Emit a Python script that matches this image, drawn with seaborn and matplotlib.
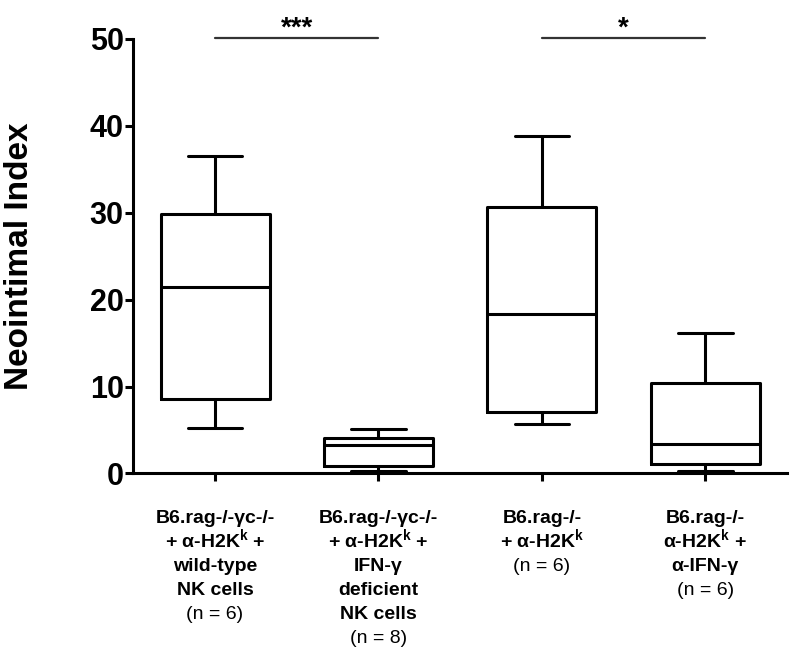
import numpy as np
import pandas as pd
import seaborn as sns
import matplotlib.pyplot as plt

# ---- data ----
groups = ["wt_nk", "ifng_def_nk", "rag", "rag_anti_ifng"]
label_lines = [
    ["B6.rag-/-γc-/-", "+ α-H2K$^{\\mathbf{k}}$ +", "wild-type", "NK cells"],
    ["B6.rag-/-γc-/-", "+ α-H2K$^{\\mathbf{k}}$ +", "IFN-γ", "deficient", "NK cells"],
    ["B6.rag-/-", "+ α-H2K$^{\\mathbf{k}}$"],
    ["B6.rag-/-", "α-H2K$^{\\mathbf{k}}$ +", "α-IFN-γ"],
]
n_labels = ["(n = 6)", "(n = 8)", "(n = 6)", "(n = 6)"]
whisker_low = [5.2, 0.25, 5.7, 0.25]
q1 = [8.6, 0.9, 7.1, 1.1]
median = [21.5, 3.3, 18.4, 3.4]
q3 = [29.9, 4.1, 30.7, 10.4]
whisker_high = [36.5, 5.1, 38.8, 16.2]
sig_pairs = [(0, 1), (2, 3)]
sig_text = ["***", "*"]
sig_y = 50.15
y_ticks = [0, 10, 20, 30, 40, 50]

# five-number summaries -> tiny samples whose 0/25/50/75/100 percentiles are exact
rows = []
for g, a, b, c, d, e in zip(groups, whisker_low, q1, median, q3, whisker_high):
    for v in (a, b, c, d, e):
        rows.append({"group": g, "value": v})
df = pd.DataFrame(rows)

sns.set_theme(style="ticks")
plt.rcParams["font.family"] = ["Liberation Sans", "DejaVu Sans"]
plt.rcParams["mathtext.fontset"] = "custom"
plt.rcParams["mathtext.rm"] = "Liberation Sans:bold"
plt.rcParams["mathtext.bf"] = "Liberation Sans:bold"
plt.rcParams["mathtext.it"] = "Liberation Sans:bold"
plt.rcParams["text.color"] = "black"
plt.rcParams["axes.labelcolor"] = "black"
plt.rcParams["xtick.color"] = "black"
plt.rcParams["ytick.color"] = "black"

fig = plt.figure(figsize=(8, 6.51), dpi=100)
ax = fig.add_axes([0.1667, 0.2727, 0.817, 0.6674])

lw = 2.2
sns.boxplot(data=df, x="group", y="value", order=groups, whis=(0, 100),
            fill=False, color="black", linecolor="black", width=0.667,
            linewidth=lw, ax=ax)

ax.set_xlim(-0.5, 3.5)
ax.set_ylim(0, 50)
ax.set_yticks(y_ticks)
ax.set_yticklabels([str(t) for t in y_ticks], fontsize=22, fontweight="bold")
ax.set_xlabel("")
ax.set_ylabel("Neointimal Index", fontsize=24, fontweight="bold")
ax.yaxis.set_label_coords(-0.151, 0.5)

for s in ["top", "right"]:
    ax.spines[s].set_visible(False)
for s in ["left", "bottom"]:
    ax.spines[s].set_linewidth(2.2)
    ax.spines[s].set_color("black")
ax.tick_params(axis="both", direction="out", length=6, width=2.2, colors="black")
ax.tick_params(axis="y", pad=1)

# x tick labels: bold lines + regular n line
ax.set_xticks(range(len(groups)))
ax.set_xticklabels([""] * len(groups))
line_h = 24
first_base = 50
for i, (lines, nl) in enumerate(zip(label_lines, n_labels)):
    for j, t in enumerate(lines):
        ax.annotate(t, xy=(i, 0), xycoords=("data", "axes fraction"),
                    xytext=(0, -(first_base + j * line_h)), textcoords="offset pixels",
                    ha="center", va="baseline", fontsize=14, fontweight="bold",
                    color="black", annotation_clip=False)
    ax.annotate(nl, xy=(i, 0), xycoords=("data", "axes fraction"),
                xytext=(0, -(first_base + len(lines) * line_h)), textcoords="offset pixels",
                ha="center", va="baseline", fontsize=14, fontweight="normal",
                color="black", annotation_clip=False)

# significance bars
for (a, b), t in zip(sig_pairs, sig_text):
    ax.plot([a, b], [sig_y, sig_y], color="#333333", lw=1.6, clip_on=False)
    ax.text((a + b) / 2, sig_y - 0.5, t, ha="center", va="bottom",
            fontsize=20, fontweight="bold", color="black")

fig.savefig("out.png", dpi=100)
